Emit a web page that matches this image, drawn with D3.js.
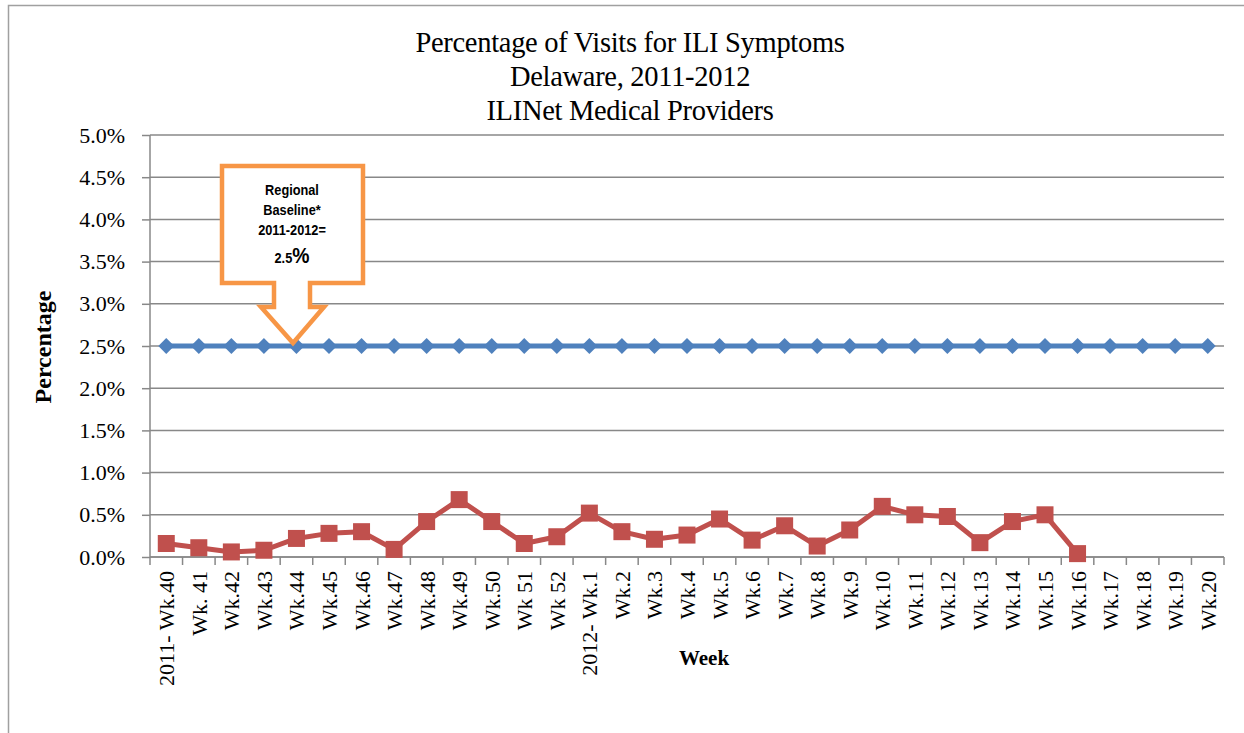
<!DOCTYPE html>
<html>
<head>
<meta charset="utf-8">
<script src="https://cdn.jsdelivr.net/npm/d3@7"></script>
<style>
  body { margin: 0; background: #fff; }
  svg text { font-family: "Liberation Serif", "Times New Roman", serif; fill: #000; }
</style>
</head>
<body>
<svg id="chart" width="1244" height="733"></svg>
<script>
var weeks = ["2011- Wk.40","Wk. 41","Wk.42","Wk.43","Wk.44","Wk.45","Wk.46","Wk.47","Wk.48","Wk.49","Wk.50","Wk 51","Wk 52",
  "2012- Wk.1","Wk.2","Wk.3","Wk.4","Wk.5","Wk.6","Wk.7","Wk.8","Wk.9","Wk.10","Wk.11","Wk.12","Wk.13","Wk.14","Wk.15","Wk.16","Wk.17","Wk.18","Wk.19","Wk.20"];
var baseline = [2.5,2.5,2.5,2.5,2.5,2.5,2.5,2.5,2.5,2.5,2.5,2.5,2.5,2.5,2.5,2.5,2.5,2.5,2.5,2.5,2.5,2.5,2.5,2.5,2.5,2.5,2.5,2.5,2.5,2.5,2.5,2.5,2.5];
var ili = [0.16,0.11,0.06,0.08,0.22,0.28,0.30,0.09,0.42,0.68,0.42,0.16,0.24,
  0.52,0.30,0.21,0.26,0.45,0.20,0.37,0.13,0.32,0.60,0.50,0.48,0.17,0.42,0.50,0.04];
var yTicks = [0,0.5,1,1.5,2,2.5,3,3.5,4,4.5,5];
var titleLines = ["Percentage of Visits for ILI Symptoms","Delaware, 2011-2012","ILINet Medical Providers"];

var svg = d3.select("#chart");
var margin = {top: 135, left: 150, right: 20, bottom: 176};
var width = 1244 - margin.left - margin.right,
    height = 733 - margin.top - margin.bottom;

// outer frame
svg.append("rect").attr("x",8.5).attr("y",5.5).attr("width",1240).attr("height",740)
  .attr("fill","none").attr("stroke","#a0a0a0").attr("stroke-width",1.5);

svg.selectAll(".title").data(titleLines).enter().append("text")
  .attr("x",630).attr("y",function(d,i){return 52+i*34;})
  .attr("text-anchor","middle").style("font-size","28.5px").style("letter-spacing","-0.3px").text(function(d){return d;});

var g = svg.append("g").attr("transform","translate("+margin.left+","+margin.top+")");

var x = d3.scaleBand().domain(weeks).range([0,width]);
var y = d3.scaleLinear().domain([0,5]).range([height,0]);

// gridlines
g.selectAll(".grid").data(yTicks).enter().append("line")
  .attr("x1",0).attr("x2",width).attr("y1",function(d){return y(d);}).attr("y2",function(d){return y(d);})
  .attr("stroke","#888").attr("stroke-width",1.5);

var yAxis = g.append("g")
  .call(d3.axisLeft(y).tickValues(yTicks).tickFormat(function(d){return d.toFixed(1)+"%";}).tickSize(8).tickPadding(17));
yAxis.selectAll("text").style("font-size","22px").style("font-family","Liberation Serif");
yAxis.selectAll("line,path").attr("stroke","#888").attr("stroke-width",1.5);
yAxis.select(".domain").attr("d","M0,0V"+height);

// x axis with ticks at band edges
var xAxis = g.append("g").attr("transform","translate(0,"+height+")");
xAxis.append("line").attr("x1",0).attr("x2",width).attr("stroke","#888").attr("stroke-width",1.5);
xAxis.selectAll(".tk").data(weeks.concat(["end"])).enter().append("line")
  .attr("x1",function(d,i){return i<weeks.length?x(d):width;})
  .attr("x2",function(d,i){return i<weeks.length?x(d):width;})
  .attr("y1",0).attr("y2",8).attr("stroke","#888").attr("stroke-width",1.5);
xAxis.selectAll(".lbl").data(weeks).enter().append("text")
  .attr("transform",function(d){return "translate("+(x(d)+x.bandwidth()/2+8)+",14) rotate(-90)";})
  .attr("text-anchor","end").style("font-size","22px").text(function(d){return d;});

// axis titles
svg.append("text").attr("transform","translate(51,347) rotate(-90)").attr("text-anchor","middle")
  .style("font-size","24px").style("font-weight","bold").text("Percentage");
svg.append("text").attr("x",704).attr("y",665).attr("text-anchor","middle")
  .style("font-size","21px").style("font-weight","bold").text("Week");

var cx = function(d,i){return x(weeks[i])+x.bandwidth()/2;};
var line = d3.line().x(cx).y(function(d){return y(d);});

g.append("path").datum(baseline).attr("d",line).attr("fill","none").attr("stroke","#4F81BD").attr("stroke-width",5);
g.selectAll(".dia").data(baseline).enter().append("path")
  .attr("d",d3.symbol().type(d3.symbolDiamond2).size(162))
  .attr("transform",function(d,i){return "translate("+cx(d,i)+","+y(d)+")";})
  .attr("fill","#4F81BD");

g.append("path").datum(ili).attr("d",line).attr("fill","none").attr("stroke","#C0504D").attr("stroke-width",5).attr("stroke-linejoin","round");
g.selectAll(".sq").data(ili).enter().append("rect")
  .attr("x",function(d,i){return cx(d,i)-8.5;}).attr("y",function(d){return y(d)-8.5;})
  .attr("width",17).attr("height",17).attr("fill","#C0504D");

// callout
var co = svg.append("g");
var bx0 = 222, bx1 = 363, by0 = 166, by1 = 283, sx0 = 274, sx1 = 310, hy = 307, wx0 = 261, wx1 = 324, tipX = 293, tipY = y(2.5)+margin.top-3;
co.append("path")
  .attr("d","M"+bx0+","+by0+"H"+bx1+"V"+by1+"H"+sx1+"V"+hy+"H"+wx1+"L"+tipX+","+tipY+"L"+wx0+","+hy+"H"+sx0+"V"+by1+"H"+bx0+"Z")
  .attr("fill","#fff").attr("stroke","#F79646").attr("stroke-width",4.5).attr("stroke-linejoin","miter");
var calloutLines = ["Regional","Baseline*","2011-2012="];
var ctx = co.append("g").attr("transform","translate(292,0) scale(0.88,1)");
ctx.selectAll("text.c").data(calloutLines).enter().append("text")
  .attr("x",0).attr("y",function(d,i){return 195+i*20;}).attr("text-anchor","middle")
  .style("font-family","Liberation Sans, Arial, sans-serif").style("font-size","14.5px").style("font-weight","bold")
  .text(function(d){return d;});
var pct = ctx.append("text").attr("x",0).attr("y",263).attr("text-anchor","middle")
  .style("font-family","Liberation Sans, Arial, sans-serif").style("font-weight","bold");
pct.append("tspan").style("font-size","14.5px").text("2.5");
pct.append("tspan").style("font-size","22px").text("%");
</script>
</body>
</html>
